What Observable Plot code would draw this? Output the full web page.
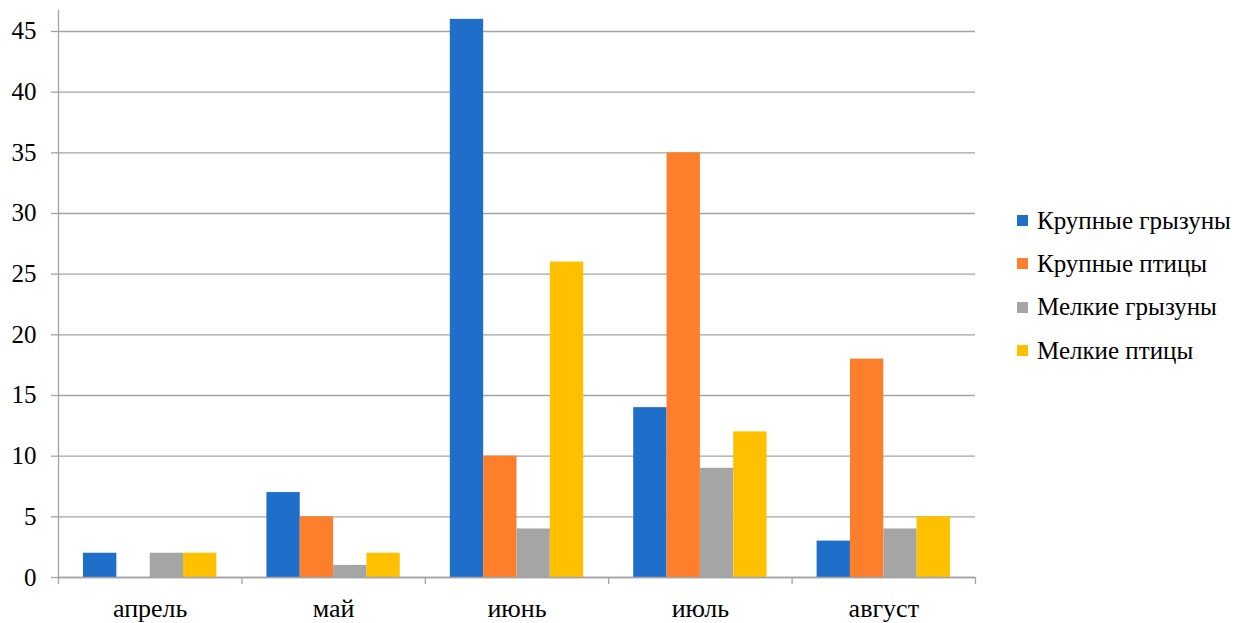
<!DOCTYPE html>
<html><head><meta charset="utf-8">
<script src="https://cdn.jsdelivr.net/npm/d3@7"></script>
<script src="https://cdn.jsdelivr.net/npm/@observablehq/plot@0.6"></script>
<style>
body{margin:0;background:#fff;}
#wrap{position:relative;width:1253px;height:623px;}
#legend{position:absolute;left:1017px;top:199px;font-size:25px;color:#000;}
.row{display:flex;align-items:center;height:43.3px;white-space:nowrap;}
.sw{width:11px;height:11px;margin-right:9px;flex:none;}
</style></head>
<body><div id="wrap"></div>
<script>
const months = ["апрель", "май", "июнь", "июль", "август"];
const series = ["Крупные грызуны", "Крупные птицы", "Мелкие грызуны", "Мелкие птицы"];
const colors = ["#1f6fca", "#fd7e2b", "#a5a5a5", "#ffc000"];
const bigRodents   = [2, 7, 46, 14, 3];
const bigBirds     = [0, 5, 10, 35, 18];
const smallRodents = [2, 1, 4, 9, 4];
const smallBirds   = [2, 2, 26, 12, 5];
const yTicks = [0, 5, 10, 15, 20, 25, 30, 35, 40, 45];

const seriesVals = [bigRodents, bigBirds, smallRodents, smallBirds];
const data = [];
months.forEach((m, i) => seriesVals.forEach((vals, j) => data.push({m, i, j, s: series[j], v: vals[i]})));
const groupPad = 0.75;
const slots = series.length + 2 * groupPad;
const grid = "#a3a3a3";
const fontNames = ["Liberation Serif"];
const fam = fontNames.map(f => `'${f}'`).join(", ") + ", monospace";
const setFont = el => { el.style.setProperty("font-family", fam, "important"); };

const chart = Plot.plot({
  width: 1253, height: 623,
  marginLeft: 58, marginRight: 278, marginTop: 10, marginBottom: 46,
  x: {domain: [0, months.length], axis: null},
  y: {domain: [0, 46.73], axis: null},
  color: {domain: series, range: colors},
  marks: [
    Plot.gridY(yTicks, {stroke: grid, strokeOpacity: 1, strokeWidth: 1.3}),
    Plot.axisY(yTicks, {tickSize: 7, tickPadding: 15, stroke: grid, strokeWidth: 1.3, fill: "#000", fontSize: 25, label: null}),
    Plot.rectY(data, {
      x1: d => d.i + (groupPad + d.j) / slots,
      x2: d => d.i + (groupPad + d.j + 1) / slots,
      y: "v", fill: "s"
    }),
    Plot.ruleX([0], {stroke: grid, strokeWidth: 1.3}),
    Plot.ruleY([0], {stroke: grid, strokeWidth: 1.3}),
    Plot.axisX(d3.range(months.length + 1), {tickSize: 7, tickFormat: () => "", stroke: grid, strokeWidth: 1.3, label: null}),
    Plot.axisX(months.map((m, i) => i + 0.5), {tickSize: 0, tickPadding: 21, tickFormat: v => months[Math.floor(v)], fill: "#000", fontSize: 26, label: null})
  ]
});
chart.style.background = "#fff";
chart.setAttribute("font-family", fontNames[0]);
setFont(chart);
const wrap = document.getElementById("wrap");
wrap.appendChild(chart);
chart.querySelectorAll("g, text, tspan").forEach(el => { el.setAttribute("font-family", fontNames[0]); setFont(el); });
const legend = document.createElement("div");
legend.id = "legend";
setFont(legend);
series.forEach((s, j) => {
  const row = document.createElement("div");
  row.className = "row";
  const sw = document.createElement("span");
  sw.className = "sw";
  sw.style.background = colors[j];
  const t = document.createElement("span");
  setFont(t);
  t.textContent = s;
  row.appendChild(sw); row.appendChild(t);
  legend.appendChild(row);
});
wrap.appendChild(legend);
</script>
</body></html>
